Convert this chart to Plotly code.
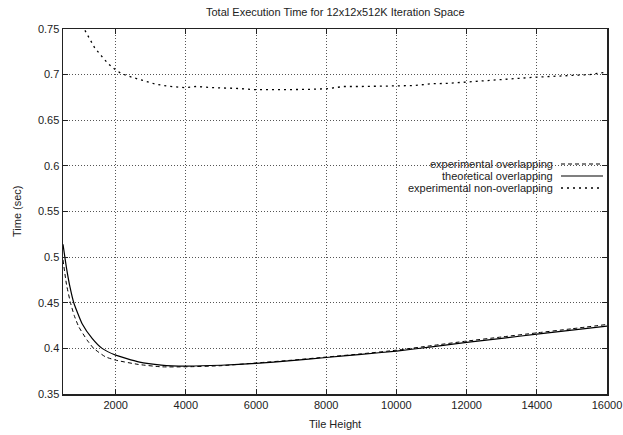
import plotly.graph_objects as go

# ---- data ----
x_exp = [500, 600, 713, 820, 950, 1188, 1375, 1707, 2000, 2650, 3300, 4000, 5000, 6000, 7000,
         8000, 9000, 10000, 11000, 12000, 13000, 14000, 15000, 16000]
y_exp = [0.497, 0.470, 0.450, 0.436, 0.4236, 0.409, 0.400, 0.3908, 0.3871, 0.3824, 0.3798, 0.3798,
         0.381, 0.384, 0.387, 0.3905, 0.394, 0.398, 0.403, 0.408, 0.4125, 0.417, 0.4215, 0.4262]

x_theo = [500, 600, 700, 807, 1045, 1330, 1614, 2000, 2650, 3300, 4000, 5000, 6000, 7000, 8000,
          9000, 10000, 11000, 12000, 13000, 14000, 15000, 16000]
y_theo = [0.514, 0.488, 0.467, 0.450, 0.427, 0.411, 0.400, 0.3926, 0.3853, 0.3817, 0.3806, 0.3815,
          0.3835, 0.3865, 0.390, 0.3935, 0.397, 0.4017, 0.4065, 0.411, 0.4156, 0.420, 0.4244]

x_non = [1125, 1267, 1409, 1599, 1787, 1977, 2167, 2452, 2781, 3162, 3540, 3966, 4300, 4770,
         5400, 6000, 6500, 7000, 7500, 8000, 8500, 9000, 9500, 10000, 10500, 11000, 11500,
         12000, 12500, 13000, 13500, 14000, 14500, 15000, 15500, 16000]
y_non = [0.7485, 0.7394, 0.729, 0.7203, 0.712, 0.7058, 0.701, 0.6973, 0.6937, 0.6893, 0.6871,
         0.6857, 0.687, 0.6857, 0.685, 0.6835, 0.6835, 0.6835, 0.6838, 0.6845, 0.687, 0.687,
         0.6872, 0.6875, 0.688, 0.690, 0.6905, 0.6919, 0.693, 0.6948, 0.696, 0.6973, 0.698,
         0.6992, 0.700, 0.7028]

series_names = ["experimental overlapping", "theoretical overlapping", "experimental non-overlapping"]

x_ticks = [2000, 4000, 6000, 8000, 10000, 12000, 14000, 16000]
x_ticktext = ["2000", "4000", "6000", "8000", "10000", "12000", "14000", "16000"]
y_ticks = [0.35, 0.4, 0.45, 0.5, 0.55, 0.6, 0.65, 0.7, 0.75]
y_ticktext = ["0.35", "0.4", "0.45", "0.5", "0.55", "0.6", "0.65", "0.7", "0.75"]

FONT = "Liberation Sans, Arial, Helvetica, sans-serif"
dashes = ["4px,3px", "solid", "2px,4px"]
widths = [1.0, 1.2, 1.3]

fig = go.Figure()
for (xs, ys), name, d, w in zip([(x_exp, y_exp), (x_theo, y_theo), (x_non, y_non)],
                                series_names, dashes, widths):
    fig.add_trace(go.Scatter(x=xs, y=ys, mode="lines", name=name,
                             line=dict(color="black", width=w, dash=d,
                                       shape="spline" if d != "2px,4px" else "linear",
                                       smoothing=0.5),
                             showlegend=False, cliponaxis=True, hoverinfo="skip"))

W, H = 623, 435
PL, PR, PT, PB = 63, 607, 29, 394          # plot area in window pixels
L, R, T, B = PL, W - PR, PT, H - PB
pw, ph = W - L - R, H - T - B

def px_x(p):
    return (p - PL) / pw

def px_y(p):
    return (PB - p) / ph

shapes = [dict(type="rect", xref="paper", yref="paper", layer="between",
               x0=px_x(350), x1=px_x(606), y0=px_y(197), y1=px_y(156),
               fillcolor="white", line=dict(width=0))]
annotations = []
rows = [164, 176, 188]
for name, d, w, ry in zip(series_names, dashes, widths, rows):
    annotations.append(dict(xref="paper", yref="paper", x=px_x(555), y=px_y(ry),
                            xanchor="right", yanchor="middle", text=name, showarrow=False,
                            font=dict(family=FONT, size=11, color="#222")))
    shapes.append(dict(type="line", xref="paper", yref="paper", layer="above",
                       x0=px_x(561), x1=px_x(603), y0=px_y(ry), y1=px_y(ry),
                       line=dict(color="black", width=w, dash=d)))

annotations.append(dict(xref="paper", yref="paper", x=px_x(335), y=px_y(424),
                        xanchor="center", yanchor="middle", text="Tile Height", showarrow=False,
                        font=dict(family=FONT, size=11, color="#222")))
annotations.append(dict(xref="paper", yref="paper", x=px_x(17), y=px_y(211),
                        xanchor="center", yanchor="middle", text="Time (sec)", showarrow=False,
                        textangle=-90, font=dict(family=FONT, size=11, color="#222")))
annotations.append(dict(xref="paper", yref="paper", x=px_x(335), y=px_y(12),
                        xanchor="center", yanchor="middle",
                        text="Total Execution Time for 12x12x512K Iteration Space",
                        showarrow=False, font=dict(family=FONT, size=11, color="#222")))

axis_common = dict(showline=True, linecolor="#222", linewidth=1.5, mirror="ticks",
                   ticks="inside", ticklen=5, tickcolor="#222", automargin=False,
                   showgrid=True, gridcolor="#555", gridwidth=1, griddash="1px,2px",
                   zeroline=False, tickfont=dict(family=FONT, size=11, color="#222"))

fig.update_layout(
    width=W, height=H,
    margin=dict(l=L, r=R, t=T, b=B, autoexpand=False),
    paper_bgcolor="white", plot_bgcolor="white",
    font=dict(family=FONT, size=11, color="#222"),
    xaxis=dict(range=[500, 16000], tickvals=x_ticks, ticktext=x_ticktext, **axis_common),
    yaxis=dict(range=[0.35, 0.75], tickvals=y_ticks, ticktext=y_ticktext, **axis_common),
    shapes=shapes, annotations=annotations, showlegend=False, hovermode=False,
)

fig.write_html("out.html", config={"displayModeBar": False, "staticPlot": True},
               post_script="document.body.style.margin='0';document.body.style.overflow='hidden';")
